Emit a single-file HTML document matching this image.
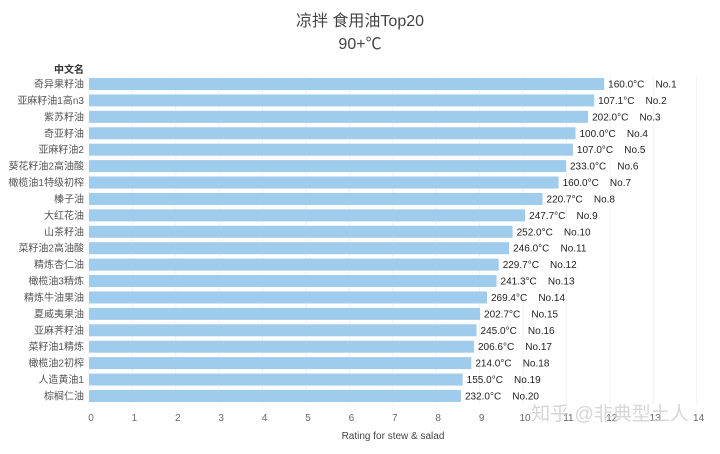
<!DOCTYPE html>
<html><head><meta charset="utf-8"><style>
body{margin:0;background:#fff;font-family:"Liberation Sans","Noto Sans CJK SC",sans-serif}
svg text{font-family:"Liberation Sans","Noto Sans CJK SC",sans-serif}
</style></head><body>
<svg id="c" width="720" height="449" xmlns="http://www.w3.org/2000/svg">
<text x="360" y="26" text-anchor="middle" font-size="16" fill="#444">凉拌 食用油Top20</text>
<text x="360" y="49" text-anchor="middle" font-size="16" fill="#444">90+℃</text>
<text x="84" y="73" text-anchor="end" font-size="10" font-weight="bold" fill="#333">中文名</text>
<text x="393" y="439" text-anchor="middle" font-size="10" fill="#444">Rating for stew &amp; salad</text>
<g id="grid"></g><g id="bars"></g><g id="ticks"></g>
<text x="610" y="420" text-anchor="middle" font-size="19" fill="#ccc" opacity="0.8">知乎 @非典型土人</text>
</svg>
<script>
const categories=["奇异果籽油","亚麻籽油1高n3","紫苏籽油","奇亚籽油","亚麻籽油2","葵花籽油2高油酸","橄榄油1特级初榨","榛子油","大红花油","山茶籽油","菜籽油2高油酸","精炼杏仁油","橄榄油3精炼","精炼牛油果油","夏威夷果油","亚麻荠籽油","菜籽油1精炼","橄榄油2初榨","人造黄油1","棕榈仁油"];
const ratings=[11.87,11.64,11.5,11.21,11.15,10.99,10.82,10.45,10.05,9.76,9.68,9.44,9.39,9.17,9.01,8.93,8.87,8.81,8.61,8.57];
const temps=["160.0°C","107.1°C","202.0°C","100.0°C","107.0°C","233.0°C","160.0°C","220.7°C","247.7°C","252.0°C","246.0°C","229.7°C","241.3°C","269.4°C","202.7°C","245.0°C","206.6°C","214.0°C","155.0°C","232.0°C"];
const xTicks=[0,1,2,3,4,5,6,7,8,9,10,11,12,13,14];
const NS="http://www.w3.org/2000/svg";
const x0=89,ux=43.4,y0=84,step=16.42,bh=12;
const xs=v=>x0+v*ux, ys=i=>y0+i*step;
function mk(t,a,p){const e=document.createElementNS(NS,t);for(const k in a)e.setAttribute(k,a[k]);p.appendChild(e);return e;}
const G=document.getElementById('grid'),B=document.getElementById('bars'),T=document.getElementById('ticks');
xTicks.forEach(v=>{
 const l=mk('line',{x1:xs(v),x2:xs(v),y1:76,y2:405,stroke:'#f2f2f2','stroke-width':1},G);
 
 
 const t=mk('text',{x:xs(v)+2,y:421,'text-anchor':'middle','font-size':10,fill:'#666'},T);
 t.textContent=v;
 
 
});
categories.forEach((c,i)=>{
 const y=ys(i);
 const r=mk('rect',{x:x0,y:y-bh/2,width:xs(ratings[i])-x0,height:bh,fill:'#9fcbec'},B);
 
 
 const l=mk('text',{x:84,y:y+3.5,'text-anchor':'end','font-size':10,fill:'#555'},B);
 l.textContent=c;
 
 
 const d=mk('text',{x:xs(ratings[i])+4,y:y+3.5,'font-size':10,fill:'#222'},B);
 d.textContent=temps[i]+'\u00a0\u00a0\u00a0\u00a0No.'+(i+1);
 d.setAttribute('xml:space','preserve');
 
 
});
</script>
</body></html>
